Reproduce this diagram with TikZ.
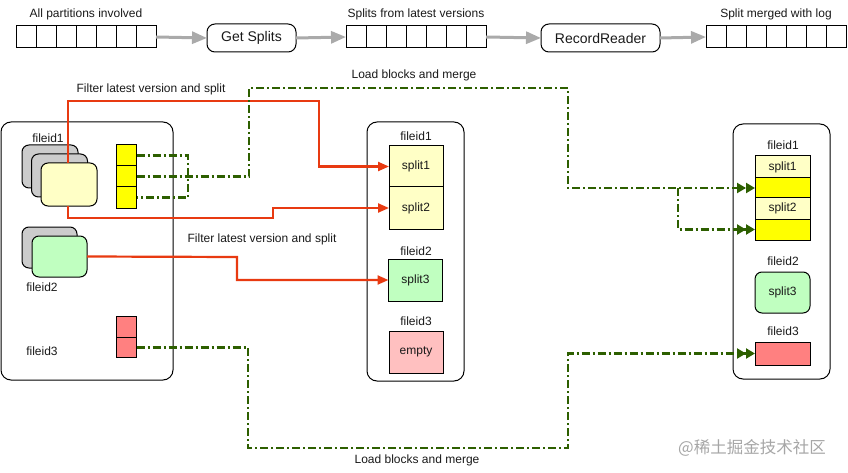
\documentclass[tikz,border=0pt]{standalone}
\usepackage{fontspec}
\setmainfont{Liberation Sans}
\newfontfamily\cjkfont{Noto Sans CJK SC}
\usetikzlibrary{arrows.meta}
\definecolor{redline}{RGB}{232,58,17}
\definecolor{greenline}{RGB}{45,95,0}
\definecolor{lyellow}{RGB}{255,255,198}
\definecolor{syellow}{RGB}{255,255,0}
\definecolor{lgreen}{RGB}{192,255,192}
\definecolor{sred}{RGB}{255,128,128}
\definecolor{pred}{RGB}{255,192,192}
\definecolor{cardgray}{RGB}{204,204,204}
\definecolor{arrowgray}{RGB}{170,170,170}
\begin{document}
\begin{tikzpicture}[x=1pt,y=-1pt,
  every node/.style={inner sep=0pt,outer sep=0pt,font=\fontsize{12}{14}\selectfont,text=black!90},
  lbl/.style={},
  arr/.style={draw,line width=1pt,minimum width=140pt,minimum height=22pt},
  proc/.style={draw,line width=1pt,rounded corners=8pt,font=\fontsize{14}{16}\selectfont},
  container/.style={draw,line width=1pt,rounded corners=10pt},
  card/.style={draw,line width=1pt,rounded corners=7pt,minimum width=56pt,minimum height=43pt},
  cell/.style={draw,line width=1pt},
  grayarrow/.style={draw=arrowgray,line width=3pt,-{Triangle[length=15pt,width=12pt]}},
  redarrow/.style={draw=redline,line width=2.2pt,-{Triangle[length=11pt,width=9pt]}},
  gline/.style={draw=greenline,line width=2.2pt,dash pattern=on 8pt off 3pt on 2pt off 3pt},
  garrow/.style={gline,-{Triangle[length=9pt,width=10pt]Triangle[length=9pt,width=10pt]}}
]
\useasboundingbox (0,0) rectangle (848,473);

% ---------- top row ----------
\node[lbl] (t1) at (86,14) {All partitions involved};
\node[lbl] (t2) at (416,14) {Splits from latest versions};
\node[lbl] (t3) at (776,14) {Split merged with log};
\node[arr] (arr1) at (86,37) {};
\node[arr] (arr2) at (416,37) {};
\node[arr] (arr3) at (776,37) {};
\foreach \a in {arr1,arr2,arr3}{
  \foreach \i in {1,...,6}{
    \draw[line width=1pt] ([xshift=\i*20pt]\a.north west) -- ([xshift=\i*20pt]\a.south west);
  }
}
\node[proc,minimum width=89pt,minimum height=28pt] (gs) at (251.5,38) {Get Splits};
\node[proc,minimum width=119pt,minimum height=28pt] (rr) at (600.5,38) {RecordReader};
\draw[grayarrow] (arr1.east) -- (gs.west);
\draw[grayarrow] (gs.east) -- (arr2.west);
\draw[grayarrow] (arr2.east) -- (rr.west);
\draw[grayarrow] (rr.east) -- (arr3.west);

% ---------- left container ----------
\node[container,minimum width=172pt,minimum height=258pt] (lbox) at (87,251) {};
\node[lbl] (lf1) at (48,138) {fileid1};
\node[card,fill=cardgray] (c1a) at (50,166.5) {};
\node[card,fill=cardgray] (c1b) at (59.5,175.5) {};
\node[card,fill=lyellow] (c1c) at (69,184.5) {};
\node[card,fill=cardgray,minimum width=55pt,minimum height=41pt] (c2a) at (49.5,247.5) {};
\node[card,fill=lgreen,minimum width=55pt,minimum height=41pt] (c2b) at (59.5,256.5) {};
\node[lbl] (lf2) at (42,287) {fileid2};
\node[lbl] (lf3) at (42,351) {fileid3};
\node[cell,fill=syellow,minimum width=20pt,minimum height=21pt] (yb1) at (126.5,155.5) {};
\node[cell,fill=syellow,minimum width=20pt,minimum height=21pt] (yb2) at (126.5,176.5) {};
\node[cell,fill=syellow,minimum width=20pt,minimum height=21pt] (yb3) at (126.5,197.5) {};
\node[cell,fill=sred,minimum width=20pt,minimum height=20.5pt] (rb1) at (126.5,327) {};
\node[cell,fill=sred,minimum width=20pt,minimum height=20.5pt] (rb2) at (126.5,347.5) {};

% ---------- middle container ----------
\node[container,minimum width=97pt,minimum height=259pt] (mbox) at (415.5,251.5) {};
\node[lbl] (mf1) at (416,136) {fileid1};
\node[cell,fill=lyellow,minimum width=54pt,minimum height=41pt] (s1) at (416,166.5) {split1};
\node[cell,fill=lyellow,minimum width=54pt,minimum height=42pt] (s2) at (416,208) {split2};
\node[lbl] (mf2) at (416,251) {fileid2};
\node[cell,fill=lgreen,minimum width=54pt,minimum height=42pt] (s3) at (415.5,280) {split3};
\node[lbl] (mf3) at (416,321) {fileid3};
\node[cell,fill=pred,minimum width=54pt,minimum height=42pt] (se) at (416,352) {empty};

% ---------- right container ----------
\node[container,minimum width=97pt,minimum height=255pt] (rbox) at (781.5,251.5) {};
\node[lbl] (rf1) at (783,145) {fileid1};
\node[cell,fill=lyellow,minimum width=55pt,minimum height=22pt] (r1) at (782.5,167) {split1};
\node[cell,fill=syellow,minimum width=55pt,minimum height=20pt] (ry1) at (782.5,188) {};
\node[cell,fill=lyellow,minimum width=55pt,minimum height=21pt] (r2) at (782.5,208.5) {split2};
\node[cell,fill=syellow,minimum width=55pt,minimum height=21pt] (ry2) at (782.5,229.5) {};
\node[lbl] (rf2) at (783,261) {fileid2};
\node[cell,fill=lgreen,rounded corners=7pt,minimum width=55pt,minimum height=41pt] (rs3) at (782.5,292.5) {split3};
\node[lbl] (rf3) at (783,331) {fileid3};
\node[cell,fill=sred,minimum width=55pt,minimum height=23pt] (rred) at (782.5,353.5) {};

% ---------- labels ----------
\node[lbl] (fl1) at (151,89) {Filter latest version and split};
\node[lbl] (fl2) at (262,239) {Filter latest version and split};
\node[lbl] (lm1) at (414,75) {Load blocks and merge};
\node[lbl] (lm2) at (417,460) {Load blocks and merge};

% ---------- red connectors ----------
\draw[redarrow] (c1c.north -| 68,0) -- (68,101) -- (319,101) |- (s1.west);
\draw[redarrow] (c1c.south -| 68,0) -- (68,218) -- (273,218) |- (s2.west);
\draw[redarrow] (c2b.east) -- (237,257) |- (s3.west);

% ---------- green connectors ----------
\draw[gline] (yb1.east) -- (188,155.5) |- (yb3.east);
\coordinate (gb) at (678,188);
\draw[garrow] (yb2.east) -- (249,176.5) -- (249,88) -- (568,88) |- (ry1.west);
\draw[garrow] (gb) |- (ry2.west);
\draw[garrow] (rb2.east) -- (248,347.5) -- (248,448) -- (568,448) |- (rred.west);

% ---------- watermark ----------
\node[text=black!35,font=\cjkfont\fontsize{16.5}{18}\selectfont] (wm) at (752,448) {@稀土掘金技术社区};
\end{tikzpicture}
\end{document}
